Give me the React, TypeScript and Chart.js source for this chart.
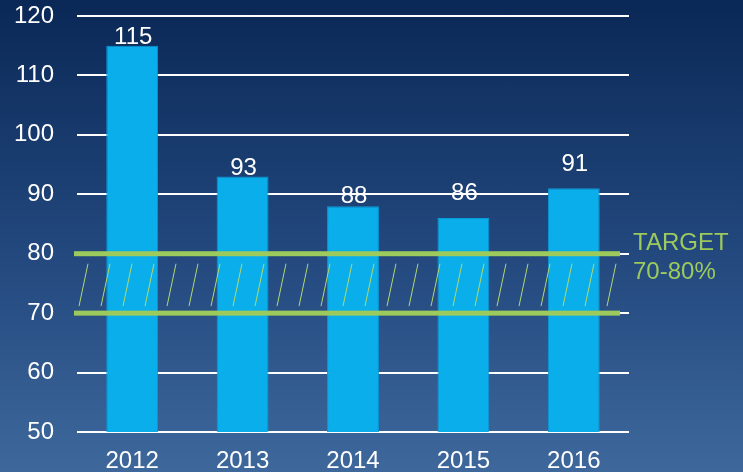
import React, { useEffect, useRef } from "react";
import { Chart, registerables } from "chart.js";

Chart.register(...registerables);

const categories = ["2012", "2013", "2014", "2015", "2016"];
const values = [115, 93, 88, 86, 91];
const yMin = 50;
const yMax = 120;
const yStep = 10;
const targetLow = 70;
const targetHigh = 80;
const targetLabel = ["TARGET", "70-80%"];
const labelGaps = [2, 1, 3, 18, 17];

const FONT = "'Liberation Sans', Arial, sans-serif";
const GREEN = "#9DCA5C";
const FS = 24;

const targetPlugin = {
  id: "targetBand",
  afterDatasetsDraw(chart: any) {
    const { ctx, chartArea, scales } = chart;
    const y = scales.y;
    const yHi = y.getPixelForValue(targetHigh);
    const yLo = y.getPixelForValue(targetLow);
    const x0 = chartArea.left - 3;
    const x1 = chartArea.right - 9;
    ctx.save();
    // hatch
    ctx.strokeStyle = "#B4D86A";
    ctx.lineWidth = 1;
    const top = yHi + 10;
    const bot = yLo - 7;
    const slant = 9;
    for (let xb = chartArea.left + 2; xb + slant <= x1; xb += 22) {
      ctx.beginPath();
      ctx.moveTo(xb, bot);
      ctx.lineTo(xb + slant, top);
      ctx.stroke();
    }
    // green lines
    ctx.fillStyle = GREEN;
    ctx.fillRect(x0, yHi - 2.5, x1 - x0, 5);
    ctx.fillRect(x0, yLo - 2.5, x1 - x0, 5);
    // label
    ctx.font = `${FS}px ${FONT}`;
    ctx.textAlign = "left";
    ctx.textBaseline = "alphabetic";
    ctx.fillText(targetLabel[0], chartArea.right + 4, yHi - 4);
    ctx.fillText(targetLabel[1], chartArea.right + 4, yHi + 25);
    // data labels
    const meta = chart.getDatasetMeta(0);
    ctx.fillStyle = "#FFFFFF";
    ctx.textAlign = "center";
    meta.data.forEach((bar: any, i: number) => {
      ctx.fillText(String(values[i]), bar.x + 1, bar.y - labelGaps[i]);
    });
    ctx.restore();
  },
};

export default function App() {
  const ref = useRef<HTMLCanvasElement>(null);
  useEffect(() => {
    if (!ref.current) return;
    const chart = new Chart(ref.current, {
      type: "bar",
      data: {
        labels: categories,
        datasets: [
          {
            data: values,
            backgroundColor: "#0AAEEA",
            borderColor: "#0A98D6",
            borderWidth: 1,
            categoryPercentage: 1,
            barPercentage: 0.47,
          },
        ],
      },
      options: {
        animation: false,
        responsive: false,
        devicePixelRatio: 1,
        layout: { padding: { left: 0, right: 114, top: 16, bottom: 0 } },
        plugins: { legend: { display: false }, tooltip: { enabled: false } },
        scales: {
          x: {
            grid: { display: false },
            border: { display: false },
            ticks: { color: "#FFFFFF", font: { family: FONT, size: FS }, padding: 7 },
            afterFit: (s: any) => {
              s.height = 40;
              s.paddingLeft = 0;
              s.paddingRight = 0;
            },
          },
          y: {
            min: yMin,
            max: yMax,
            grid: { color: "#FFFFFF", lineWidth: 2, drawTicks: false },
            border: { display: false },
            ticks: { stepSize: yStep, color: "#FFFFFF", font: { family: FONT, size: FS }, padding: 23 },
            afterFit: (s: any) => {
              s.width = 77;
              s.paddingTop = 0;
              s.paddingBottom = 0;
            },
          },
        },
      },
      plugins: [targetPlugin],
    });
    return () => chart.destroy();
  }, []);
  return (
    <div
      style={{
        position: "absolute",
        left: 0,
        top: 0,
        width: 743,
        height: 472,
        background: "linear-gradient(180deg, #0A2856 0%, #23497F 55%, #3E689C 100%)",
      }}
    >
      <canvas ref={ref} width={743} height={472} style={{ display: "block" }} />
    </div>
  );
}
